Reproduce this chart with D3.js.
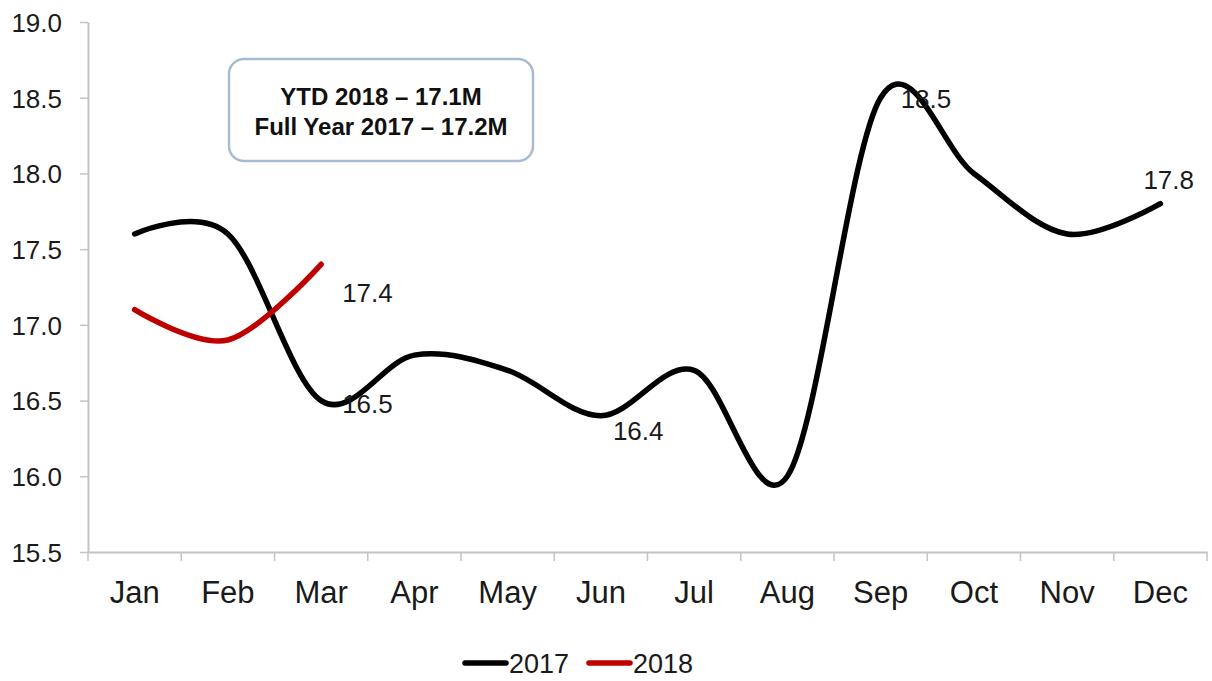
<!DOCTYPE html>
<html>
<head>
<meta charset="utf-8">
<script src="https://cdn.jsdelivr.net/npm/d3@7"></script>
<style>
    html, body { margin: 0; padding: 0; background: #fff; }
    #chart { width: 1212px; height: 681px; }
    text { font-family: "Liberation Sans", Arial, sans-serif; }
</style>
</head>
<body>
<div id="chart"></div>
<script>
const months = ['Jan', 'Feb', 'Mar', 'Apr', 'May', 'Jun', 'Jul', 'Aug', 'Sep', 'Oct', 'Nov', 'Dec'];
const values2017 = [17.6, 17.6, 16.5, 16.8, 16.7, 16.4, 16.7, 16.0, 18.5, 18.0, 17.6, 17.8];
const values2018 = [17.1, 16.9, 17.4];
const yTicks = [15.5, 16.0, 16.5, 17.0, 17.5, 18.0, 18.5, 19.0];
const boxLines = ['YTD 2018 \u2013 17.1M', 'Full Year 2017 \u2013 17.2M'];
// which points get a value label
const labelled = [
    {series: '2018', month: 'Mar'},
    {series: '2017', month: 'Mar'},
    {series: '2017', month: 'Jun'},
    {series: '2017', month: 'Sep'},
    {series: '2017', month: 'Dec'}
];

const seriesList = [
    {name: '2017', values: values2017, color: '#000000'},
    {name: '2018', values: values2018, color: '#c00000'}
];

// label placement relative to the point
const labelOffset = {
    '2018-Mar': [21, 38],
    '2017-Mar': [21, 12],
    '2017-Jun': [12, 24],
    '2017-Sep': [20, 10],
    '2017-Dec': [-17, -15]
};

const element = document.getElementById('chart');
const width = 1212;
const height = 681;
const margin = {top: 22, bottom: 129, left: 88, right: 5};

const x = d3.scaleBand()
    .domain(months)
    .range([margin.left, width - margin.right])
    .padding(0);

const y = d3.scaleLinear()
    .domain([15.5, 19.0])
    .range([height - margin.bottom, margin.top]);

const cx = (m) => x(m) + x.bandwidth() / 2;

const svg = d3.select(element)
    .append('svg')
    .attr('width', width)
    .attr('height', height);

const axisColor = '#c3c3c3';

// y axis
const yAxis = d3.axisLeft(y)
    .tickValues(yTicks)
    .tickFormat(d3.format('.1f'))
    .tickSize(8)
    .tickPadding(18)
    .tickSizeOuter(0);

const gy = svg.append('g')
    .attr('class', 'y axis')
    .attr('transform', `translate(${margin.left},0)`)
    .call(yAxis);
gy.select('.domain').attr('stroke', axisColor).attr('stroke-width', 2);
gy.selectAll('.tick line').attr('stroke', axisColor).attr('stroke-width', 1.5);
gy.selectAll('.tick text')
    .attr('font-size', 26)
    .attr('fill', '#1a1a1a')
    .attr('dy', '0.36em');

// x axis: labels at centres, ticks at band edges
const xAxis = d3.axisBottom(x)
    .tickSize(0)
    .tickPadding(0)
    .tickSizeOuter(0);

const gx = svg.append('g')
    .attr('class', 'x axis')
    .attr('transform', `translate(0,${y(15.5)})`)
    .call(xAxis);
gx.select('.domain').attr('stroke', axisColor).attr('stroke-width', 2);
gx.selectAll('.tick text')
    .attr('font-size', 31)
    .attr('fill', '#1a1a1a')
    .attr('y', 51)
    .attr('dy', 0);

const edges = months.map(m => x(m)).concat([x.range()[1]]);
gx.selectAll('.edge')
    .data(edges)
    .enter().append('line')
    .attr('class', 'edge')
    .attr('x1', d => d)
    .attr('x2', d => d)
    .attr('y1', 0)
    .attr('y2', 9)
    .attr('stroke', axisColor)
    .attr('stroke-width', 1.5);

// lines
const line = d3.line()
    .x((d, i) => cx(months[i]))
    .y(d => y(d))
    .curve(d3.curveCardinal.tension(0));

svg.selectAll('.series')
    .data(seriesList)
    .enter().append('path')
    .attr('class', 'series')
    .attr('fill', 'none')
    .attr('stroke', d => d.color)
    .attr('stroke-width', 5.5)
    .attr('stroke-linejoin', 'round')
    .attr('stroke-linecap', 'round')
    .attr('d', d => line(d.values));

// value labels
svg.selectAll('.value-label')
    .data(labelled)
    .enter().append('text')
    .attr('class', 'value-label')
    .attr('font-size', 26)
    .attr('fill', '#1a1a1a')
    .attr('x', d => cx(d.month) + labelOffset[`${d.series}-${d.month}`][0])
    .attr('y', d => {
        const s = seriesList.find(s => s.name === d.series);
        return y(s.values[months.indexOf(d.month)]) + labelOffset[`${d.series}-${d.month}`][1];
    })
    .text(d => {
        const s = seriesList.find(s => s.name === d.series);
        return d3.format('.1f')(s.values[months.indexOf(d.month)]);
    });

// annotation box
const box = svg.append('g').attr('class', 'note');
box.append('rect')
    .attr('x', 229)
    .attr('y', 59)
    .attr('width', 304)
    .attr('height', 102)
    .attr('rx', 15)
    .attr('fill', '#fff')
    .attr('stroke', '#a9bbd0')
    .attr('stroke-width', 2.5);
box.selectAll('text')
    .data(boxLines)
    .enter().append('text')
    .attr('x', 381)
    .attr('y', (d, i) => 105 + i * 30)
    .attr('text-anchor', 'middle')
    .attr('font-size', 24)
    .attr('font-weight', 'bold')
    .attr('fill', '#111')
    .text(d => d);

// legend
const legend = svg.append('g')
    .attr('class', 'legend')
    .attr('transform', `translate(463,663)`);

const legendItems = legend.selectAll('.item')
    .data(seriesList)
    .enter().append('g')
    .attr('class', 'item')
    .attr('transform', (d, i) => `translate(${i * 124},0)`);

legendItems.append('line')
    .attr('x1', 2)
    .attr('x2', 43)
    .attr('stroke', d => d.color)
    .attr('stroke-width', 5.5)
    .attr('stroke-linecap', 'round');

legendItems.append('text')
    .attr('x', 46)
    .attr('y', 10)
    .attr('font-size', 27)
    .attr('fill', '#1a1a1a')
    .text(d => d.name);
</script>
</body>
</html>
